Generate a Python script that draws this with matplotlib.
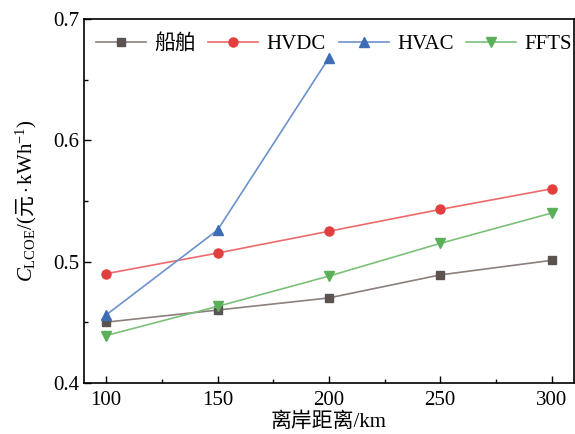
import matplotlib
matplotlib.use("Agg")
import matplotlib.pyplot as plt
from matplotlib.ticker import MultipleLocator

plt.rcParams['font.family'] = ['Liberation Serif', 'Noto Sans CJK SC']
plt.rcParams['mathtext.fontset'] = 'custom'
plt.rcParams['mathtext.rm'] = 'Liberation Serif'
plt.rcParams['mathtext.it'] = 'Liberation Serif:italic'
plt.rcParams['mathtext.sf'] = 'Noto Sans CJK SC'

distance = [100, 150, 200, 250, 300]
ship = [0.450, 0.460, 0.470, 0.489, 0.501]
hvdc = [0.490, 0.507, 0.525, 0.543, 0.560]
hvac_distance = [100, 150, 200]
hvac = [0.456, 0.526, 0.668]
ffts = [0.439, 0.463, 0.488, 0.515, 0.540]

fig = plt.figure(figsize=(5.75, 4.34), dpi=100)
ax = fig.add_axes([0.146, 0.118, 0.852, 0.838])

ax.plot(distance, ship, color='#8c7f7c', lw=1.2, marker='s', ms=6,
        mfc='#5a5350', mec='#5a5350', label='船舶')
ax.plot(distance, hvdc, color='#ee6a6a', lw=1.2, marker='o', ms=6.5,
        mfc='#e2403f', mec='#e2403f', label='HVDC')
ax.plot(hvac_distance, hvac, color='#6b92cc', lw=1.2, marker='^', ms=6.5,
        mfc='#3e6db5', mec='#3e6db5', label='HVAC')
ax.plot(distance, ffts, color='#7cc07a', lw=1.2, marker='v', ms=6.5,
        mfc='#5aaf58', mec='#5aaf58', label='FFTS')

ax.set_xlim(90, 310)
ax.set_ylim(0.4, 0.7)
ax.xaxis.set_major_locator(MultipleLocator(50))
ax.xaxis.set_minor_locator(MultipleLocator(25))
ax.yaxis.set_major_locator(MultipleLocator(0.1))
ax.yaxis.set_minor_locator(MultipleLocator(0.05))
ax.tick_params(which='both', direction='in', labelsize=15, width=1)
ax.tick_params(which='major', length=5)
ax.tick_params(which='minor', length=3)
ax.tick_params(axis='x', pad=6)
for s in ax.spines.values():
    s.set_linewidth(1.2)

ax.set_xlabel('离岸距离/km', fontsize=15, labelpad=2)
ax.set_ylabel(r'$C_{\mathrm{LCOE}}\mathrm{/(}\mathsf{元}\cdot\mathrm{kWh}^{-1}\mathrm{)}$',
              fontsize=15, labelpad=10)

ax.legend(loc='upper center', ncol=4, frameon=False, fontsize=15,
          handlelength=2.4, columnspacing=0.6, handletextpad=0.4,
          bbox_to_anchor=(0.51, 1.01))

fig.savefig('out.png', dpi=100)
